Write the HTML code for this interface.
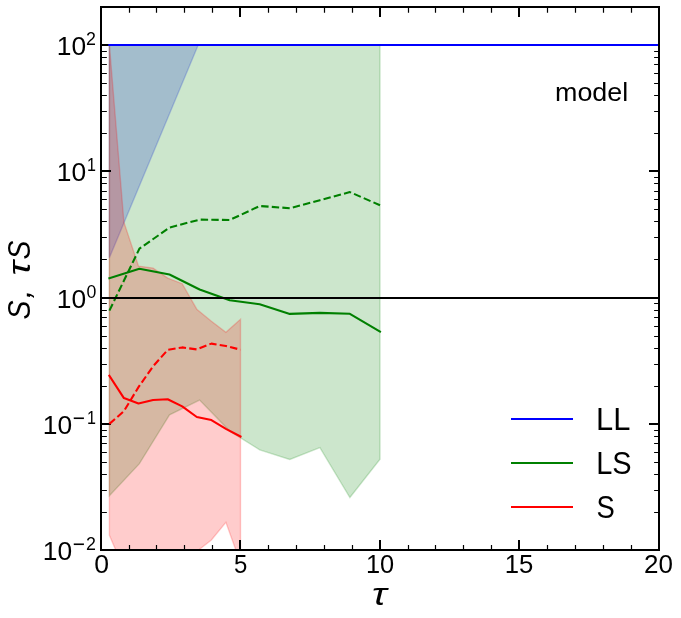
<!DOCTYPE html>
<html lang="en"><head><meta charset="utf-8"><title>S, tau S vs tau - model</title>
<style>html,body{margin:0;padding:0;background:#fff}body{width:681px;height:618px;overflow:hidden}svg{display:block;will-change:transform}text{font-family:"Liberation Sans",sans-serif;fill:#000}</style>
</head><body>
<svg width="681" height="618" viewBox="0 0 681 618">
<rect width="681" height="618" fill="#fff"/>
<defs><clipPath id="ax"><rect x="101.0" y="7.0" width="558.0" height="543.0"/></clipPath></defs>
<g clip-path="url(#ax)">
<g stroke-width="1.39" stroke-linejoin="miter">
<polygon points="109.37,44.9 198.2,44.9 109.37,257.8" fill="#0000ff" fill-opacity="0.2" stroke="#0000ff" stroke-opacity="0.2"/>
<polygon points="109.4,44.9 139.4,44.9 169.5,44.9 199.6,44.9 229.7,44.9 259.7,44.9 289.8,44.9 319.9,44.9 349.9,44.9 380.0,44.9 380.0,459.2 349.9,497.5 319.9,447.6 289.8,459.4 259.7,449.8 229.7,431.1 199.6,400.1 169.5,414.9 139.4,463.7 109.4,495.8" fill="#008000" fill-opacity="0.2" stroke="#008000" stroke-opacity="0.2"/>
<polygon points="109.4,44.9 123.9,222.1 138.5,266.1 153.1,268.1 167.7,278.1 182.2,283.7 196.8,309.2 211.4,321.2 225.9,332.3 240.5,319.2 240.5,563.0 225.9,522.3 211.4,540.0 196.8,551.4 182.2,590.0 167.7,600.0 153.1,600.0 138.5,590.0 123.9,569.0 109.4,535.3" fill="#ff0000" fill-opacity="0.2" stroke="#ff0000" stroke-opacity="0.2"/>
</g>
</g>
<g stroke="#000" fill="none">
<path d="M240,550.0V540.0M240,7.0V17.0M380,550.0V540.0M380,7.0V17.0M519,550.0V540.0M519,7.0V17.0M101.0,45h10.0M659.0,45h-10.0M101.0,171h10.0M659.0,171h-10.0M101.0,298h10.0M659.0,298h-10.0M101.0,424h10.0M659.0,424h-10.0" stroke-width="2"/>
<path d="M129.5,550.0V545.0M129.5,7.0V12.8M156.5,550.0V545.0M156.5,7.0V12.8M184.5,550.0V545.0M184.5,7.0V12.8M212.5,550.0V545.0M212.5,7.0V12.8M268.5,550.0V545.0M268.5,7.0V12.8M296.5,550.0V545.0M296.5,7.0V12.8M324.5,550.0V545.0M324.5,7.0V12.8M352.5,550.0V545.0M352.5,7.0V12.8M408.5,550.0V545.0M408.5,7.0V12.8M435.5,550.0V545.0M435.5,7.0V12.8M463.5,550.0V545.0M463.5,7.0V12.8M491.5,550.0V545.0M491.5,7.0V12.8M547.5,550.0V545.0M547.5,7.0V12.8M575.5,550.0V545.0M575.5,7.0V12.8M603.5,550.0V545.0M603.5,7.0V12.8M631.5,550.0V545.0M631.5,7.0V12.8M101.0,512.5H106.85M659.0,512.5H654.1M101.0,490.5H106.85M659.0,490.5H654.1M101.0,474.5H106.85M659.0,474.5H654.1M101.0,462.5H106.85M659.0,462.5H654.1M101.0,452.5H106.85M659.0,452.5H654.1M101.0,443.5H106.85M659.0,443.5H654.1M101.0,436.5H106.85M659.0,436.5H654.1M101.0,430.5H106.85M659.0,430.5H654.1M101.0,386.5H106.85M659.0,386.5H654.1M101.0,364.5H106.85M659.0,364.5H654.1M101.0,348.5H106.85M659.0,348.5H654.1M101.0,336.5H106.85M659.0,336.5H654.1M101.0,326.5H106.85M659.0,326.5H654.1M101.0,317.5H106.85M659.0,317.5H654.1M101.0,310.5H106.85M659.0,310.5H654.1M101.0,303.5H106.85M659.0,303.5H654.1M101.0,259.5H106.85M659.0,259.5H654.1M101.0,237.5H106.85M659.0,237.5H654.1M101.0,221.5H106.85M659.0,221.5H654.1M101.0,209.5H106.85M659.0,209.5H654.1M101.0,199.5H106.85M659.0,199.5H654.1M101.0,191.5H106.85M659.0,191.5H654.1M101.0,183.5H106.85M659.0,183.5H654.1M101.0,177.5H106.85M659.0,177.5H654.1M101.0,133.5H106.85M659.0,133.5H654.1M101.0,111.5H106.85M659.0,111.5H654.1M101.0,95.5H106.85M659.0,95.5H654.1M101.0,83.5H106.85M659.0,83.5H654.1M101.0,73.5H106.85M659.0,73.5H654.1M101.0,64.5H106.85M659.0,64.5H654.1M101.0,57.5H106.85M659.0,57.5H654.1M101.0,51.5H106.85M659.0,51.5H654.1" stroke-width="1.2"/>
</g>
<g clip-path="url(#ax)">
<g fill="none" stroke-width="2.08" stroke-linejoin="round">
<line x1="109.37" y1="45" x2="659.0" y2="45" stroke="#0000ff" stroke-linecap="square"/>
<polyline points="109.4,278.2 139.4,268.8 169.5,274.5 199.6,289.5 229.7,300.2 259.7,304.2 289.8,313.9 319.9,312.9 349.9,313.8 380.0,331.5" stroke="#008000" stroke-linecap="square"/>
<polyline points="109.4,310.6 139.4,248.7 169.5,227.6 199.6,219.6 229.7,220.0 259.7,206.0 289.8,208.2 319.9,200.2 349.9,192.1 380.0,205.2" stroke="#008000" stroke-dasharray="7.4 3.2"/>
<polyline points="109.4,375.8 123.9,398.1 138.5,403.5 153.1,400.0 167.7,399.3 182.2,406.4 196.8,417.0 211.4,420.1 225.9,428.9 240.5,436.5" stroke="#ff0000" stroke-linecap="square"/>
<polyline points="109.4,423.9 123.9,411.2 138.5,387.1 153.1,366.3 167.7,349.9 182.2,347.4 196.8,349.4 211.4,343.6 225.9,346.0 240.5,349.7" stroke="#ff0000" stroke-dasharray="7.4 3.2"/>
<line x1="101.0" y1="298" x2="659.0" y2="298" stroke="#000"/>
</g>
</g>
<g stroke="#000" fill="none">
<rect x="101.0" y="7.0" width="558.0" height="543.0" stroke-width="2"/>
</g>
<g stroke-width="2" stroke-linecap="butt">
<line x1="511" y1="419" x2="573" y2="419" stroke="#0000ff"/>
<line x1="511" y1="463" x2="573" y2="463" stroke="#008000"/>
<line x1="511" y1="507" x2="573" y2="507" stroke="#ff0000"/>
</g>
<g>
<text transform="translate(56.72,55.09) scale(1.0012,1)" font-size="26.34">10</text>
<text transform="translate(86.11,45.00) scale(0.9599,1)" font-size="18.57">2</text>
<text transform="translate(56.72,181.09) scale(1.0012,1)" font-size="26.34">10</text>
<text transform="translate(86.99,171.00) scale(0.8675,1)" font-size="18.55">1</text>
<text transform="translate(56.72,308.14) scale(1.0012,1)" font-size="26.34">10</text>
<text transform="translate(86.38,298.11) scale(0.9502,1)" font-size="18.66">0</text>
<text transform="translate(42.82,434.14) scale(1.0012,1)" font-size="26.34">10</text>
<text transform="translate(72.85,426.24) scale(0.9269,1)" font-size="22.67">−</text>
<text transform="translate(86.99,424.05) scale(0.8675,1)" font-size="18.55">1</text>
<text transform="translate(42.82,560.09) scale(1.0012,1)" font-size="26.34">10</text>
<text transform="translate(72.85,552.19) scale(0.9269,1)" font-size="22.67">−</text>
<text transform="translate(86.11,550.00) scale(0.9599,1)" font-size="18.57">2</text>
<text transform="translate(94.37,572.75) scale(1.0433,1)" font-size="25.49">0</text>
<text transform="translate(233.94,572.74) scale(0.9385,1)" font-size="25.57">5</text>
<text transform="translate(366.00,572.75) scale(0.9952,1)" font-size="25.49">10</text>
<text transform="translate(504.77,572.74) scale(1.0050,1)" font-size="25.57">15</text>
<text transform="translate(644.00,572.75) scale(1.0207,1)" font-size="25.49">20</text>
<text transform="translate(372.12,604.78) scale(1.2472,1)" font-size="31.67" font-style="italic">τ</text>
<text transform="translate(29.99,319.51) rotate(-90) scale(0.9058,1)" font-size="31.47" font-style="italic">S</text>
<text transform="translate(30.15,298.38) rotate(-90) scale(1.0817,1)" font-size="29.58" font-style="italic">,</text>
<text transform="translate(29.78,275.46) rotate(-90) scale(1.2161,1)" font-size="31.85" font-style="italic">τ</text>
<text transform="translate(29.99,259.41) rotate(-90) scale(0.9008,1)" font-size="31.47" font-style="italic">S</text>
<text transform="translate(555.05,100.91) scale(1.0307,1)" font-size="26.08">model</text>
<text transform="translate(596.03,430.10) scale(0.9636,1)" font-size="32.03">LL</text>
<text transform="translate(596.18,473.98) scale(0.9165,1)" font-size="31.61">LS</text>
<text transform="translate(596.57,517.98) scale(0.8673,1)" font-size="31.61">S</text>
</g>
</svg></body></html>
